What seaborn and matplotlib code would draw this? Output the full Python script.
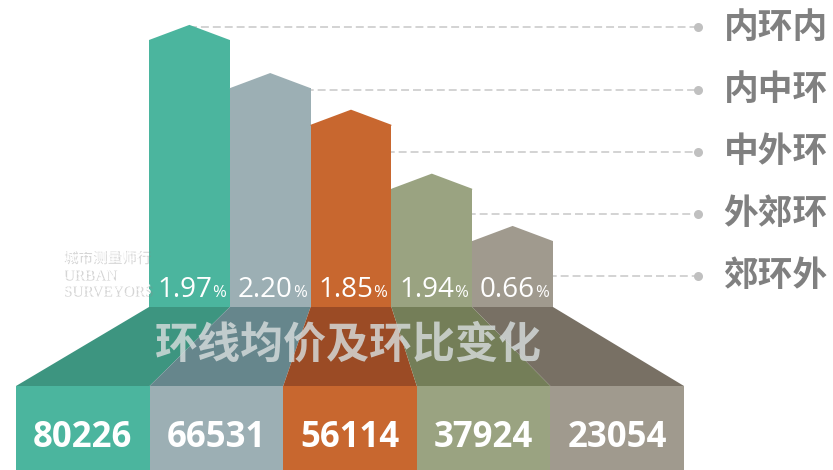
import matplotlib
matplotlib.use("Agg")
import numpy as np
import matplotlib.pyplot as plt
import matplotlib.patheffects as pe
from matplotlib.patches import Polygon
from matplotlib.colors import ListedColormap
import seaborn as sns

# data
rings = ["内环内", "内中环", "中外环", "外郊环", "郊环外"]
prices = [80226, 66531, 56114, 37924, 23054]
changes = ["1.97", "2.20", "1.85", "1.94", "0.66"]
title = "环线均价及环比变化"

colors = ["#4bb59e", "#9cafb4", "#c8672f", "#9aa381", "#a09a8e"]
side_colors = ["#3d9580", "#66868c", "#9b4b25", "#747e58", "#787064"]

sns.set_style("white")
plt.rcParams["font.family"] = ["Noto Sans CJK SC", "DejaVu Sans"]

W, H = 833, 470
fig = plt.figure(figsize=(W / 100, H / 100), dpi=100)


def box(x0, y0, x1, y1):
    # pixel box (top-left origin) -> figure fraction rect
    return [x0 / W, 1 - y1 / H, (x1 - x0) / W, (y1 - y0) / H]


ax = fig.add_axes(box(149, 0, 553, 307))
ax2 = fig.add_axes(box(16, 386, 684, 490))

# upper bars with pointed caps
ymax = 87300
cap = 4300
body = [v - cap for v in prices]
sns.barplot(x=rings, y=body, hue=rings, palette=colors, width=1, saturation=1,
            legend=False, ax=ax, zorder=2, linewidth=0)
for i, v in enumerate(prices):
    ax.fill([i - 0.5, i - 0.5, i, i + 0.5, i + 0.5],
            [v - cap - 300, v - cap, v, v - cap, v - cap - 300],
            color=colors[i], lw=0, zorder=2)
ax.set_xlim(-0.5, 4.5)
ax.set_ylim(0, ymax)
ax.axis("off")

# percent change labels
pct_y = 2800
for i, c in enumerate(changes):
    ax.text(i + 0.28, pct_y, c, ha="right", va="baseline", fontsize=20,
            color="white", family="Open Sans", zorder=4)
    ax.text(i + 0.28, pct_y, "%", ha="left", va="baseline", fontsize=12,
            color="white", family="Open Sans", zorder=4)

# leader lines + ring names
label_y = [0.912, 0.707, 0.505, 0.303, 0.101]
dot_x = 1.359
for i, (name, ly) in enumerate(zip(rings, label_y)):
    ax.plot([(i + 0.5) / 5, dot_x], [ly, ly], transform=ax.transAxes,
            color="#c8c8c8", lw=1.1, ls=(0, (5.2, 2.6)), clip_on=False, zorder=1)
    ax.plot([dot_x], [ly], "o", ms=6.5, color="#c0c0c0", mec="none",
            transform=ax.transAxes, clip_on=False, zorder=1)
    ax.text(1.422, ly, name, transform=ax.transAxes, fontsize=25,
            fontweight="bold", color="#808080", va="center", ha="left")

# front boxes with price numbers
sns.heatmap(np.arange(5)[None, :], cmap=ListedColormap(colors), annot=np.array([prices]),
            fmt="d", cbar=False, ax=ax2, linewidths=0,
            annot_kws={"fontsize": 25, "fontweight": "bold", "color": "white",
                       "family": "Open Sans"})
ax2.axis("off")

# slanted top face between bars and boxes
to_fig = fig.transFigure.inverted()
for i in range(5):
    pts = [ax.transData.transform((i - 0.5, 0)), ax.transData.transform((i + 0.5, 0)),
           ax2.transData.transform((i + 1, 0)), ax2.transData.transform((i, 0))]
    pts = to_fig.transform(pts)
    fig.add_artist(Polygon(pts, closed=True, fc=side_colors[i], ec="none",
                           transform=fig.transFigure, zorder=1))

fig.text(0.418, 1 - 345 / H, title, ha="center", va="center", fontsize=31,
         fontweight="bold", color="#d6dcdc", alpha=0.82, zorder=5)

# faint watermark
shadow = [pe.SimplePatchShadow(offset=(1.5, -1.5), shadow_rgbFace="#888888", alpha=0.35), pe.Normal()]
fig.text(62 / W, 1 - 257 / H, "城市测量师行", fontsize=10.5, color="white", va="center",
         path_effects=shadow, zorder=6)
fig.text(62 / W, 1 - 275 / H, "URBAN", fontsize=11, color="white", va="center",
         family="Liberation Serif", path_effects=shadow, zorder=6)
fig.text(62 / W, 1 - 291 / H, "SURVEYORS", fontsize=11, color="white", va="center",
         family="Liberation Serif", path_effects=shadow, zorder=6)

fig.savefig("out.png", dpi=100)
